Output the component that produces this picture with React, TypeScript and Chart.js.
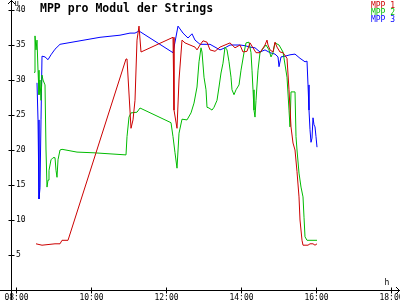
import { useEffect, useRef } from "react";
import { Chart, registerables } from "chart.js";
Chart.register(...registerables);

// time in minutes since midnight, values in volts
const mpp1Times = [512, 521.6, 542.4, 550.4, 553.6, 563.2, 656, 657.6, 664, 667.2, 670.4, 673.6, 676.8, 680, 731.2, 732.8, 737.6, 740.8, 745.6, 750.4, 758.4, 766.4, 769.6, 774.4, 779.2, 785.6, 790.4, 798.4, 806.4, 814.4, 822.4, 830.4, 838.4, 843.2, 849.6, 854.4, 859.2, 864, 870.4, 878.4, 881.6, 883.2, 886.4, 891.2, 894.4, 897.6, 902.4, 907.2, 913.6, 916.8, 920, 923.2, 926.4, 929.6, 932.8, 934.4, 937.6, 939.2, 947.2, 950.4, 955.2, 958.4, 961.6];
const mpp1Values = [6.6, 6.4, 6.6, 6.6, 7.1, 7.1, 33.0, 33.0, 23.1, 24.3, 27.1, 35.7, 37.7, 34.0, 36.1, 25.7, 23.1, 30.0, 35.7, 35.3, 35.0, 34.7, 34.3, 35.0, 35.6, 35.4, 34.3, 34.1, 34.7, 35.0, 35.3, 34.6, 35.0, 34.0, 34.1, 35.3, 34.6, 33.9, 33.9, 35.0, 35.7, 35.0, 34.3, 34.0, 35.4, 34.7, 34.0, 33.9, 33.1, 28.6, 23.3, 21.0, 20.0, 16.9, 13.3, 10.0, 7.1, 6.4, 6.4, 6.6, 6.6, 6.4, 6.6];

const mpp2Times = [508.8, 510.4, 512, 513.6, 515.2, 516.8, 518.4, 520, 521.6, 523.2, 526.4, 528, 529.6, 531.2, 532.8, 536, 539.2, 542.4, 544, 545.6, 547.2, 550.4, 553.6, 577.6, 604.8, 656, 657.6, 660.8, 664, 673.6, 678.4, 728, 731.2, 734.4, 737.6, 740.8, 745.6, 753.6, 760, 764.8, 769.6, 772.8, 776, 777.6, 780.8, 784, 785.6, 788.8, 793.6, 796.8, 801.6, 804.8, 808, 811.2, 814.4, 817.6, 820.8, 824, 825.6, 828.8, 832, 836.8, 840, 844.8, 848, 852.8, 856, 857.6, 859.2, 860.8, 862.4, 864, 867.2, 870.4, 873.6, 880, 884.8, 888, 891.2, 894.4, 900.8, 907.2, 913.6, 916.8, 918.4, 920, 926.4, 928, 929.6, 932.8, 936, 939.2, 940.8, 942.4, 945.6, 961.6];
const mpp2Values = [31.1, 36.3, 34.3, 35.7, 31.4, 27.9, 30.0, 27.1, 30.7, 30.0, 29.3, 20.0, 14.7, 15.7, 17.1, 18.6, 18.9, 18.9, 17.1, 16.1, 18.6, 20.0, 20.1, 19.7, 19.6, 19.3, 21.9, 24.7, 25.3, 25.4, 26.0, 23.9, 21.9, 19.6, 17.4, 22.4, 24.4, 24.3, 25.3, 26.7, 29.0, 32.6, 34.6, 34.0, 30.4, 28.6, 26.1, 26.0, 25.7, 26.1, 27.1, 29.0, 31.0, 32.4, 34.7, 34.3, 32.6, 30.4, 28.6, 27.9, 28.6, 29.3, 31.4, 33.9, 35.3, 35.4, 33.9, 31.4, 28.6, 25.7, 24.7, 27.1, 31.4, 33.9, 34.3, 35.0, 34.3, 33.3, 33.9, 35.3, 35.0, 34.0, 30.4, 25.7, 23.3, 28.3, 28.3, 21.9, 20.0, 16.7, 14.7, 13.3, 10.4, 7.6, 7.1, 7.1];

const mpp3Times = [513.6, 515.2, 516.8, 518.4, 520, 521.6, 526.4, 531.2, 536, 542.4, 550.4, 582.4, 614.4, 646.4, 662.4, 670.4, 676.8, 731.2, 739.2, 747.2, 755.2, 761.6, 766.4, 774.4, 790.4, 798.4, 806.4, 814.4, 822.4, 838.4, 846.4, 854.4, 862.4, 870.4, 878.4, 886.4, 894.4, 899.2, 900.8, 904, 910.4, 918.4, 926.4, 934.4, 942.4, 945.6, 947.2, 948.8, 950.4, 952, 953.6, 955.2, 956.8, 958.4, 960, 961.6];
const mpp3Values = [29.6, 24.3, 13.0, 14.6, 24.3, 33.4, 33.3, 32.9, 33.6, 34.4, 35.1, 35.6, 36.1, 36.4, 36.7, 36.7, 37.0, 33.9, 37.7, 36.7, 36.0, 36.6, 35.7, 35.1, 35.1, 34.7, 34.3, 34.6, 35.0, 35.0, 34.9, 34.7, 34.6, 34.0, 34.3, 33.9, 33.7, 33.3, 31.9, 33.3, 33.4, 33.6, 33.7, 33.1, 32.6, 32.7, 29.3, 25.7, 22.9, 21.1, 21.7, 24.6, 23.6, 23.3, 21.9, 20.4];

const xTickValues = [480, 600, 720, 840, 960, 1080];
const xTickLabels = ["08:00", "10:00", "12:00", "14:00", "16:00", "18:00"];
const yTickValues = [5, 10, 15, 20, 25, 30, 35, 40];
const seriesNames = ["MPP 1", "MPP 2", "MPP 3"];
const seriesColors = ["#cc0000", "#00bb00", "#0000ff"];
const titleText = "MPP pro Modul der Strings";
const yUnit = "U";
const xUnit = "h";

const MONO = '"DejaVu Sans Mono", monospace';

const axesPlugin = {
  id: "customAxes",
  afterDraw(chart: any) {
    const ctx = chart.ctx as CanvasRenderingContext2D;
    const xs = chart.scales.x;
    const ys = chart.scales.y;
    const W = chart.width;
    const H = chart.height;
    const x0 = Math.round(xs.getPixelForValue(xs.min)) + 0.5;
    const y0 = Math.round(ys.getPixelForValue(0)) + 0.5;
    ctx.save();
    ctx.strokeStyle = "#000";
    ctx.lineWidth = 1;
    ctx.beginPath();
    ctx.moveTo(x0, H);
    ctx.lineTo(x0, 0);
    ctx.moveTo(0, y0);
    ctx.lineTo(W, y0);
    ctx.moveTo(x0 - 3.5, 4);
    ctx.lineTo(x0, 0.5);
    ctx.lineTo(x0 + 3.5, 4);
    ctx.moveTo(W - 4, y0 - 3.5);
    ctx.lineTo(W - 0.5, y0);
    ctx.lineTo(W - 4, y0 + 3.5);
    yTickValues.forEach((v) => {
      const py = Math.round(ys.getPixelForValue(v)) + 0.5;
      ctx.moveTo(x0 - 3, py);
      ctx.lineTo(x0 + 3, py);
    });
    xTickValues.forEach((v) => {
      const px = Math.round(xs.getPixelForValue(v)) + 0.5;
      ctx.moveTo(px, y0 - 3);
      ctx.lineTo(px, y0 + 3);
    });
    ctx.stroke();

    ctx.fillStyle = "#000";
    ctx.font = `8px ${MONO}`;
    ctx.textAlign = "left";
    ctx.textBaseline = "middle";
    yTickValues.forEach((v) => {
      const py = ys.getPixelForValue(v);
      ctx.fillText(String(v), x0 + 4.5, py);
    });
    ctx.textAlign = "center";
    ctx.textBaseline = "alphabetic";
    xTickValues.forEach((v, i) => {
      const px = xs.getPixelForValue(v);
      ctx.fillText(xTickLabels[i], px + 0.5, 300);
    });
    ctx.textAlign = "left";
    ctx.font = `7px ${MONO}`;
    ctx.fillText(yUnit, 14.5, 6);
    ctx.font = `8px ${MONO}`;
    ctx.fillText(xUnit, 384.5, 285);

    ctx.font = `bold 11.5px ${MONO}`;
    ctx.fillText(titleText, 40, 12);

    ctx.font = `8px ${MONO}`;
    ctx.textAlign = "right";
    seriesNames.forEach((n, i) => {
      ctx.fillStyle = seriesColors[i];
      ctx.fillText(n, 395, 8 + i * 7);
    });
    ctx.restore();
  },
};

function toPoints(t: number[], v: number[]) {
  return t.map((x, i) => ({ x, y: v[i] }));
}

export default function App() {
  const ref = useRef<HTMLCanvasElement | null>(null);
  useEffect(() => {
    document.body.style.margin = "0";
    const canvas = ref.current!;
    const seriesData = [
      toPoints(mpp1Times, mpp1Values),
      toPoints(mpp2Times, mpp2Values),
      toPoints(mpp3Times, mpp3Values),
    ];
    const chart = new Chart(canvas, {
      type: "line",
      data: {
        datasets: seriesData.map((d, i) => ({
          label: seriesNames[i],
          data: d,
          borderColor: seriesColors[i],
          backgroundColor: seriesColors[i],
          borderWidth: 1,
          pointRadius: 0,
          tension: 0,
          fill: false,
        })),
      },
      options: {
        animation: false,
        responsive: false,
        devicePixelRatio: 1,
        layout: { padding: { left: 11, right: 9, top: 10, bottom: 10 } },
        plugins: {
          legend: { display: false },
          title: { display: false },
          tooltip: { enabled: false },
        },
        scales: {
          x: { type: "linear", min: 472, max: 1080, display: false },
          y: { type: "linear", min: 0, max: 40, display: false },
        },
      },
      plugins: [axesPlugin],
    });
    return () => chart.destroy();
  }, []);
  return (
    <div style={{ position: "fixed", left: 0, top: 0, width: 400, height: 300, background: "#fff" }}>
      <canvas ref={ref} width={400} height={300} style={{ display: "block" }} />
    </div>
  );
}
